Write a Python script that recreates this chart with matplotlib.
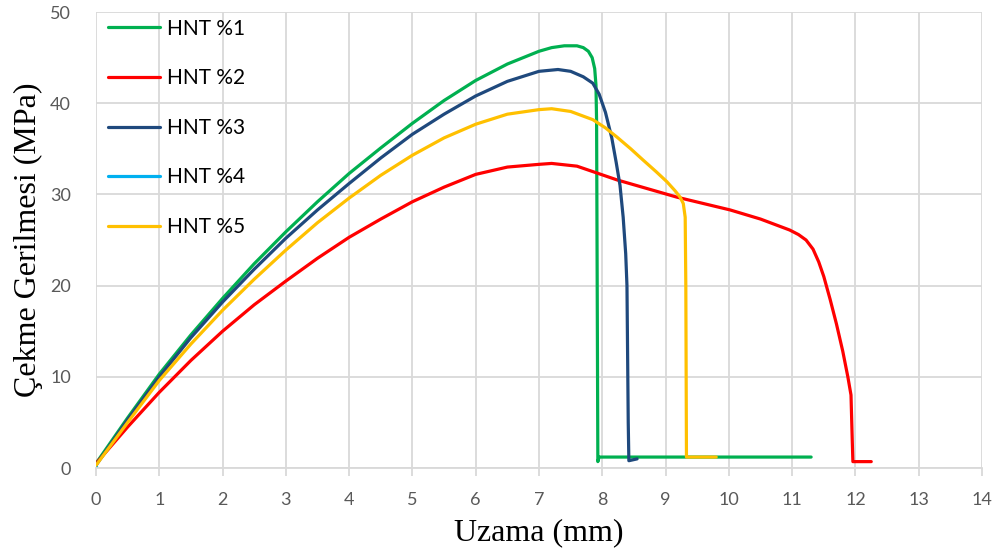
import matplotlib
matplotlib.use('Agg')
import matplotlib.pyplot as plt

# --- data (elongation mm, stress MPa) ---
hnt1_x = [0, 0.5, 1, 1.5, 2, 2.5, 3, 3.5, 4, 4.5, 5, 5.5, 6, 6.5, 7, 7.2, 7.4, 7.6, 7.7, 7.78,
          7.84, 7.88, 7.9, 7.91, 7.93, 7.95, 9.0, 10.0, 11.3]
hnt1_y = [0.5, 5.5, 10.3, 14.6, 18.6, 22.4, 25.9, 29.2, 32.3, 35.1, 37.8, 40.3, 42.5, 44.3, 45.7, 46.1, 46.3, 46.3, 46.1, 45.7,
          45.0, 43.8, 42.0, 38.0, 0.7, 1.2, 1.2, 1.2, 1.2]

hnt2_x = [0, 0.5, 1, 1.5, 2, 2.5, 3, 3.5, 4, 4.5, 5, 5.5, 6, 6.5, 7, 7.2, 7.6, 8.23, 9.18, 10.02,
          10.5, 10.96, 11.1, 11.22, 11.33, 11.42, 11.5, 11.6, 11.7, 11.8, 11.88, 11.93, 11.95, 11.96, 12.25]
hnt2_y = [0.5, 4.5, 8.3, 11.8, 15.0, 17.9, 20.5, 23.0, 25.3, 27.3, 29.2, 30.8, 32.2, 33.0, 33.3, 33.4, 33.1, 31.6, 29.7, 28.3,
          27.3, 26.1, 25.6, 25.0, 24.0, 22.6, 21.0, 18.5, 15.8, 12.8, 10.0, 8.0, 3.0, 0.7, 0.7]

hnt3_x = [0, 0.5, 1, 1.5, 2, 2.5, 3, 3.5, 4, 4.5, 5, 5.5, 6, 6.5, 7, 7.3, 7.5, 7.7, 7.85, 7.95,
          8.05, 8.15, 8.22, 8.28, 8.33, 8.37, 8.39, 8.41, 8.42, 8.55]
hnt3_y = [0.3, 5.3, 10.0, 14.3, 18.2, 21.8, 25.2, 28.3, 31.2, 34.0, 36.6, 38.8, 40.8, 42.4, 43.5, 43.7, 43.5, 42.9, 42.2, 41.0,
          39.0, 36.2, 33.5, 31.0, 27.5, 23.5, 20.0, 5.0, 0.8, 1.0]

hnt4_x = [0, 0.01]
hnt4_y = [0, 0.1]

hnt5_x = [0, 0.5, 1, 1.5, 2, 2.5, 3, 3.5, 4, 4.5, 5, 5.5, 6, 6.5, 7, 7.2, 7.5, 7.85, 8.05, 8.23,
          8.45, 8.64, 8.85, 9.02, 9.15, 9.23, 9.28, 9.31, 9.32, 9.33, 9.8]
hnt5_y = [0.3, 5.0, 9.6, 13.6, 17.3, 20.7, 23.9, 26.9, 29.6, 32.1, 34.3, 36.2, 37.7, 38.8, 39.3, 39.4, 39.1, 38.2, 37.3, 36.3,
          35.0, 33.8, 32.5, 31.4, 30.4, 29.7, 29.0, 27.5, 20.0, 1.2, 1.2]

labels = ['HNT %1', 'HNT %2', 'HNT %3', 'HNT %4', 'HNT %5']
colors = ['#00B050', '#FF0000', '#1F497D', '#00B0F0', '#FFC000']
x_ticks = list(range(0, 15))
y_ticks = [0, 10, 20, 30, 40, 50]

fig = plt.figure(figsize=(10, 5.53), dpi=100)
ax = fig.add_axes([0.096, 0.1537, 0.886, 0.8245])

series = [(hnt1_x, hnt1_y), (hnt2_x, hnt2_y), (hnt3_x, hnt3_y), (hnt4_x, hnt4_y), (hnt5_x, hnt5_y)]
for (xs, ys), lab, col in zip(series, labels, colors):
    ax.plot(xs, ys, color=col, lw=2.3, label=lab, solid_capstyle='round', solid_joinstyle='round')

ax.set_xlim(0, 14)
ax.set_ylim(0, 50)
ax.set_xticks(x_ticks)
ax.set_yticks(y_ticks)
ax.grid(True, color='#D9D9D9', lw=1.3)
ax.set_axisbelow(True)
for s in ['top', 'right', 'left']:
    ax.spines[s].set_visible(False)
ax.spines['bottom'].set_color('#D9D9D9')
ax.spines['bottom'].set_linewidth(1.3)
ax.tick_params(axis='x', direction='out', length=6, width=1.3, color='#D9D9D9',
               labelsize=13, labelcolor='#595959', pad=11)
ax.tick_params(axis='y', length=0, labelsize=13, labelcolor='#595959', pad=18)
for t in ax.get_xticklabels() + ax.get_yticklabels():
    t.set_family('Lato')

ax.set_xlabel('Uzama (mm)', family='Liberation Serif', fontsize=23)
ax.set_ylabel('Çekme Gerilmesi (MPa)', family='Liberation Serif', fontsize=23)
ax.xaxis.set_label_coords(0.5, -0.11)
ax.yaxis.set_label_coords(-0.06, 0.5)

leg = ax.legend(loc='upper left', bbox_to_anchor=(-0.0055, 1.022), frameon=False,
                prop={'family': 'Lato', 'size': 15}, handlelength=2.5,
                labelspacing=1.42, handletextpad=0.35, borderaxespad=0.4)

fig.savefig('out.png', dpi=100)
